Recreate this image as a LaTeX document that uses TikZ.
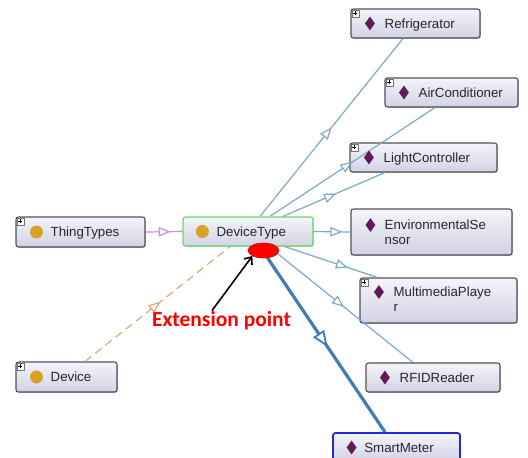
\documentclass[tikz,border=0pt]{standalone}
\usepackage{fontspec}
\setmainfont{Liberation Sans}
\newfontfamily\calloutfont{Carlito}
\usetikzlibrary{arrows.meta,decorations.markings,shapes.geometric,shadows}

\definecolor{boxedge}{HTML}{505058}
\definecolor{boxtop}{HTML}{F4F4FA}
\definecolor{boxbot}{HTML}{D2D2E6}
\definecolor{labeltext}{HTML}{26262C}
\definecolor{indivcol}{HTML}{5E1B57}
\definecolor{classcol}{HTML}{D8A322}
\definecolor{sublink}{HTML}{7FA8C9}
\definecolor{heavylink}{HTML}{3F7DB6}
\definecolor{typelink}{HTML}{CF8DE0}
\definecolor{instlink}{HTML}{E3A677}
\definecolor{focusedge}{HTML}{6BD96B}
\definecolor{selectedge}{HTML}{2626D8}
\definecolor{markred}{HTML}{FF0000}

\tikzset{
  x=1pt, y=-1pt,
  entity/.style={draw=boxedge, line width=1.1pt, rounded corners=2.5pt,
    top color=boxtop, bottom color=boxbot, inner sep=0pt,
    drop shadow={shadow xshift=0.8pt, shadow yshift=-0.8pt, opacity=0.25, fill=black}},
  lbl/.style={anchor=base west, inner sep=0pt, text=labeltext, align=left,
    font=\fontsize{13.3}{15}\selectfont},
  indiv/.style={diamond, fill=indivcol, inner sep=0pt, minimum width=10pt, minimum height=14pt},
  klass/.style={circle, fill=classcol, inner sep=0pt, minimum size=13pt},
  expander/.style={draw=boxedge!80, line width=0.6pt, fill=white, minimum size=7pt,
    inner sep=0pt, anchor=north west,
    path picture={\draw[line width=0.7pt,black]
      ([xshift=1.5pt]path picture bounding box.west) -- ([xshift=-1.5pt]path picture bounding box.east)
      ([yshift=-1.5pt]path picture bounding box.north) -- ([yshift=1.5pt]path picture bounding box.south);}},
  midtri/.style args={#1 with #2/#3/#4}{postaction={decorate, decoration={markings,
    mark=at position #1 with {\pgfsetlinewidth{#4}\arrow{Triangle[fill=white, length=#2, width=#3]}}}}},
  sublinkline/.style={draw=sublink, line width=1.2pt, midtri={#1 with 12pt/9.5pt/1.2pt}},
}

\begin{document}
\begin{tikzpicture}
\useasboundingbox[fill=white] (0,0) rectangle (528,458);

% ---- boxes ----
\node[entity, minimum width=129pt, minimum height=29pt] (ref)  at (415.5,23.5) {};
\node[entity, minimum width=133pt, minimum height=29pt] (ac)   at (451.5,92.5) {};
\node[entity, minimum width=147pt, minimum height=29pt] (lc)   at (423.5,157.5) {};
\node[entity, minimum width=161pt, minimum height=46pt] (env)  at (431.5,232) {};
\node[entity, minimum width=157pt, minimum height=45pt] (mp)   at (438.5,300.5) {};
\node[entity, minimum width=134pt, minimum height=29pt] (rfid) at (433,377.5) {};
\node[entity, draw=selectedge, line width=1.8pt, minimum width=127pt, minimum height=29pt] (sm) at (396.5,447.5) {};
\node[entity, minimum width=129pt, minimum height=30pt] (tt)   at (80.5,232) {};
\node[entity, draw=focusedge, line width=1.3pt, minimum width=130pt, minimum height=29pt] (dt) at (248,231.5) {};
\node[entity, minimum width=101pt, minimum height=30pt] (dev)  at (66.5,377) {};

% ---- connectors ----
\path[sublinkline=0.5]  ([xshift=12pt]dt.north) -- ([xshift=-12.5pt]ref.south);
\path[sublinkline=0.5]  ([xshift=22pt]dt.north) -- ([xshift=-16.5pt]ac.south);
\path[sublinkline=0.52] ([xshift=35pt]dt.north) -- ([xshift=-38.5pt]lc.south);
\path[sublinkline=0.78] (dt.east) -- (env.west);
\path[sublinkline=0.68] ([xshift=37pt]dt.south) -- ([xshift=-61pt]mp.north);
\path[sublinkline=0.52] ([xshift=21pt]dt.south) -- ([xshift=-20pt]rfid.north);
\path[draw=heavylink, line width=3.2pt, midtri={0.54 with 16pt/13pt/1.8pt}]
  ([xshift=12pt]dt.south) -- ([xshift=-11.5pt]sm.north);
\path[draw=typelink, line width=1.2pt, midtri={0.68 with 12pt/9.5pt/1.2pt}] (tt.east) -- (dt.west);
\path[draw=instlink, line width=1.2pt, dash pattern=on 8pt off 5pt, midtri={0.52 with 12pt/9.5pt/1.2pt}]
  ([xshift=18.5pt]dev.north) -- ([xshift=-18pt]dt.south);

% ---- icons and labels ----
\node[expander] (refx) at ([shift={(1.2pt,-1.2pt)}]ref.north west) {};
\node[indiv] (refi) at ([xshift=19.5pt]ref.west) {};
\node[lbl] (refl) at ([shift={(34pt,-4.7pt)}]ref.west) {Refrigerator};

\node[expander] (acx) at ([shift={(1.2pt,-1.2pt)}]ac.north west) {};
\node[indiv] (aci) at ([xshift=19.5pt]ac.west) {};
\node[lbl] (acl) at ([shift={(34pt,-4.7pt)}]ac.west) {AirConditioner};

\node[expander] (lcx) at ([shift={(1.2pt,-1.2pt)}]lc.north west) {};
\node[indiv] (lci) at ([xshift=19.5pt]lc.west) {};
\node[lbl] (lcl) at ([shift={(34pt,-4.7pt)}]lc.west) {LightController};

\node[indiv] (envi) at ([shift={(20pt,7pt)}]env.west) {};
\node[lbl] (envl) at ([shift={(34pt,-12.6pt)}]env.west) {EnvironmentalSe\\nsor};

\node[expander] (mpx) at ([shift={(1.2pt,-1.2pt)}]mp.north west) {};
\node[indiv] (mpi) at ([shift={(19.5pt,8.5pt)}]mp.west) {};
\node[lbl] (mpl) at ([shift={(34pt,-10.8pt)}]mp.west) {MultimediaPlaye\\r};

\node[indiv] (rfidi) at ([xshift=19.5pt]rfid.west) {};
\node[lbl] (rfidl) at ([shift={(34pt,-4.7pt)}]rfid.west) {RFIDReader};

\node[indiv] (smi) at ([xshift=19.5pt]sm.west) {};
\node[lbl] (sml) at ([shift={(32pt,-4.7pt)}]sm.west) {SmartMeter};

\node[expander] (ttx) at ([shift={(1.2pt,-1.2pt)}]tt.north west) {};
\node[klass] (tti) at ([xshift=21pt]tt.west) {};
\node[lbl] (ttl) at ([shift={(35pt,-4.7pt)}]tt.west) {ThingTypes};

\node[klass] (dti) at ([xshift=20pt]dt.west) {};
\node[lbl] (dtl) at ([shift={(34pt,-4.7pt)}]dt.west) {DeviceType};

\node[expander] (devx) at ([shift={(1.2pt,-1.2pt)}]dev.north west) {};
\node[klass] (devi) at ([xshift=21pt]dev.west) {};
\node[lbl] (devl) at ([shift={(35pt,-4.7pt)}]dev.west) {Device};

% ---- extension point marker and callout ----
\node[ellipse, fill=markred, draw=markred!85!black, line width=0.6pt,
  minimum width=31pt, minimum height=15pt, inner sep=0pt] (ep) at (263.5,250.5) {};
\node[text=markred, font=\calloutfont\bfseries\fontsize{21.5}{25}\selectfont, inner sep=0pt]
  (call) at (221.5,321) {Extension point};
\draw[line width=1.6pt, -{Straight Barb[length=6pt, width=10pt]}]
  ([xshift=-9.5pt, yshift=1pt]call.north) -- (ep.south west);
\end{tikzpicture}
\end{document}
